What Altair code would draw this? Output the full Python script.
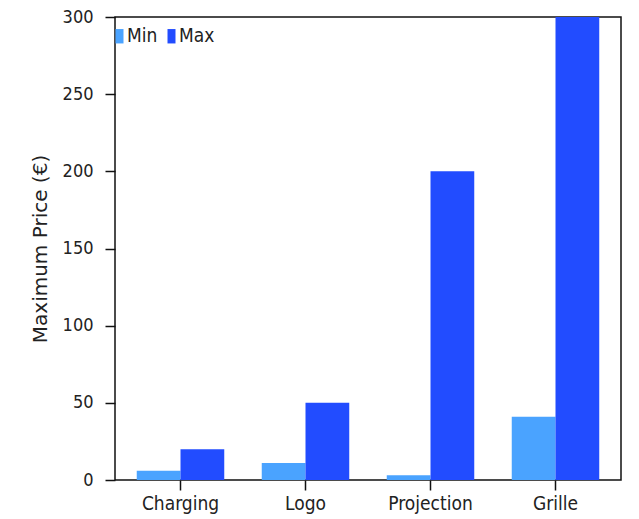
import altair as alt
import pandas as pd

categories = ["Charging", "Logo", "Projection", "Grille"]
min_values = [6, 11, 3, 41]
max_values = [20, 50, 200, 300]
series = ["Min", "Max"]
colors = ["#4aa3ff", "#224cff"]

rows = []
for c, lo, hi in zip(categories, min_values, max_values):
    rows.append({"Feature": c, "Series": "Min", "Price": lo})
    rows.append({"Feature": c, "Series": "Max", "Price": hi})
df = pd.DataFrame(rows)

FONT = "DejaVu Sans Condensed"

chart = alt.Chart(df).mark_bar().encode(
    x=alt.X("Feature:N", sort=categories,
            scale=alt.Scale(paddingInner=0.3, paddingOuter=0.174),
            axis=alt.Axis(title=None, labelAngle=0, tickSize=10, labelPadding=4,
                          domain=False, ticks=True, labelFontSize=19)),
    xOffset=alt.XOffset("Series:N", sort=series,
                        scale=alt.Scale(paddingInner=0, paddingOuter=0)),
    y=alt.Y("Price:Q", scale=alt.Scale(domain=[0, 300], nice=False),
            axis=alt.Axis(title="Maximum Price (€)", values=[0, 50, 100, 150, 200, 250, 300],
                          tickSize=10, labelPadding=12, titlePadding=12, grid=False,
                          domain=False, labelFontSize=18,
                          titleFont="DejaVu Sans", titleFontSize=20)),
    color=alt.Color("Series:N", sort=series,
                    scale=alt.Scale(domain=series, range=colors),
                    legend=alt.Legend(title=None, orient="none", legendX=-7, legendY=9.5,
                                      direction="horizontal",
                                      symbolType="M-0.5,-1.8H1.5V1.8H-0.5Z", symbolSize=64,
                                      symbolStrokeWidth=0, labelFontSize=19, labelOffset=0,
                                      columnPadding=2, padding=0)),
).properties(
    width=506, height=463,
    autosize=alt.AutoSizeParams(type="none"),
    padding={"left": 107, "top": 9, "right": 10, "bottom": 38},
).configure_view(
    stroke="#111", strokeWidth=1.5
).configure_axis(
    labelFont=FONT,
    labelColor="#222", titleColor="#222", titleFontWeight="normal",
    tickColor="#111", tickWidth=1.5
).configure_legend(
    labelFont=FONT, labelColor="#222"
)

chart.save("out.html", embed_options={"renderer": "svg", "actions": False})
